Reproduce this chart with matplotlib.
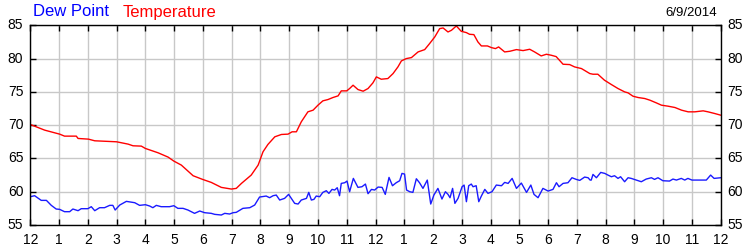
import matplotlib
matplotlib.use("Agg")
import matplotlib.pyplot as plt

plt.rcParams['font.family'] = ['Liberation Sans', 'DejaVu Sans']

temp_hours = [0.0, 0.50, 1.02, 1.19, 1.60, 1.66, 2.02, 2.24, 3.00, 3.40, 3.57, 3.86, 4.00, 4.44, 4.79,
              4.99, 5.25, 5.66, 5.99, 6.29, 6.64, 6.99, 7.16, 7.34, 7.68, 7.92, 8.09, 8.26, 8.50, 8.73,
              8.96, 9.10, 9.25, 9.42, 9.65, 9.83, 10.0, 10.17, 10.35, 10.52, 10.70, 10.81, 11.0, 11.10,
              11.22, 11.39, 11.57, 11.74, 11.91, 12.03, 12.20, 12.43, 12.61, 12.78, 12.90, 13.07, 13.25,
              13.48, 13.71, 13.88, 14.06, 14.23, 14.35, 14.52, 14.64, 14.81, 14.98, 15.16, 15.27, 15.42,
              15.56, 15.68, 15.89, 16.03, 16.17, 16.28, 16.49, 16.67, 16.90, 17.13, 17.36, 17.53, 17.76,
              17.94, 18.11, 18.28, 18.52, 18.75, 18.92, 19.16, 19.45, 19.56, 19.73, 19.96, 20.20, 20.43,
              20.66, 20.78, 20.95, 21.13, 21.36, 21.54, 21.76, 21.94, 22.17, 22.41, 22.64, 22.87, 23.10,
              23.39, 23.56, 23.79, 24.0]
temperature = [70.1, 69.25, 68.65, 68.35, 68.35, 68.0, 67.9, 67.65, 67.5, 67.15, 66.9, 66.85, 66.5, 65.85, 65.2,
               64.6, 64.0, 62.4, 61.85, 61.4, 60.65, 60.4, 60.5, 61.25, 62.5, 64.0, 66.0, 67.1, 68.25, 68.6,
               68.65, 69.0, 69.0, 70.5, 72.0, 72.25, 73.0, 73.65, 73.85, 74.15, 74.4, 75.15, 75.15, 75.5,
               76.0, 75.35, 75.1, 75.5, 76.35, 77.25, 76.9, 77.0, 77.75, 78.75, 79.65, 80.0, 80.15,
               81.0, 81.35, 82.25, 83.25, 84.5, 84.6, 84.0, 84.25, 84.9, 84.1, 83.9, 83.65, 83.6,
               82.5, 81.9, 81.9, 81.65, 81.5, 81.75, 81.0, 81.1, 81.35, 81.2, 81.4, 81.0, 80.4,
               80.65, 80.5, 80.3, 79.15, 79.1, 78.75, 78.5, 77.75, 77.65, 77.65, 76.75, 76.1, 75.5,
               75.0, 74.85, 74.35, 74.15, 74.0, 73.75, 73.35, 73.0, 72.85, 72.65, 72.25, 72.0, 72.0,
               72.15, 72.0, 71.75, 71.5]

dew_hours = [0.0, 0.15, 0.38, 0.56, 0.73, 0.90, 1.02, 1.19, 1.37, 1.48, 1.66, 1.77, 2.00, 2.12, 2.24, 2.41,
             2.58, 2.76, 2.87, 2.95, 3.11, 3.34, 3.63, 3.80, 4.00, 4.15, 4.26, 4.38, 4.55, 4.84,
             4.99, 5.13, 5.31, 5.48, 5.71, 5.89, 6.06, 6.29, 6.41, 6.64, 6.76, 6.93, 7.05, 7.16, 7.39,
             7.63, 7.80, 7.97, 8.20, 8.32, 8.44, 8.55, 8.67, 8.84, 8.98, 9.19, 9.31, 9.42, 9.60, 9.68,
             9.77, 9.86, 9.94, 10.06, 10.17, 10.29, 10.38, 10.49, 10.58, 10.67, 10.75, 10.81, 10.93,
             11.01, 11.10, 11.23, 11.39, 11.53, 11.65, 11.74, 11.86, 11.97, 12.09, 12.23, 12.34, 12.47,
             12.59, 12.72, 12.84, 12.92, 13.01, 13.08, 13.19, 13.30, 13.42, 13.53, 13.65, 13.80, 13.92,
             14.03, 14.17, 14.31, 14.43, 14.52, 14.59, 14.68, 14.76, 14.87, 15.01, 15.08, 15.16, 15.24,
             15.33, 15.39, 15.50, 15.59, 15.68, 15.80, 15.91, 16.05, 16.20, 16.38, 16.49, 16.61, 16.75,
             16.90, 17.07, 17.25, 17.40, 17.51, 17.65, 17.82, 18.00, 18.17, 18.29, 18.38, 18.52, 18.69,
             18.83, 18.98, 19.10, 19.27, 19.39, 19.46, 19.50, 19.56, 19.68, 19.83, 19.97, 20.08, 20.20,
             20.31, 20.43, 20.52, 20.66, 20.78, 20.89, 21.07, 21.24, 21.41, 21.59, 21.70, 21.82, 21.99,
             22.22, 22.34, 22.46, 22.63, 22.75, 22.86, 23.00, 23.50, 23.65, 23.77, 24.00]
dew_point = [59.25, 59.4, 58.7, 58.7, 57.95, 57.4, 57.35, 57.0, 57.0, 57.4, 57.15, 57.45, 57.45, 57.75, 57.15, 57.6,
             57.6, 57.95, 57.95, 57.25, 58.0, 58.55, 58.35, 57.95, 58.05, 57.85, 57.6, 57.95, 57.75, 57.75,
             57.9, 57.5, 57.5, 57.25, 56.75, 57.1, 56.85, 56.75, 56.6, 56.5, 56.75, 56.65, 56.85, 56.9, 57.5,
             57.6, 58.0, 59.2, 59.35, 59.1, 59.4, 59.5, 58.75, 59.0, 59.6, 58.25, 58.15, 58.75, 59.0, 59.9,
             58.75, 58.85, 59.35, 59.25, 59.9, 60.15, 59.75, 60.35, 60.25, 60.6, 59.4, 61.25, 61.35,
             61.6, 60.0, 62.0, 60.65, 60.75, 61.15, 59.7, 60.35, 60.25, 60.7, 60.65, 59.6, 62.15,
             60.9, 61.35, 61.65, 62.75, 62.65, 60.25, 60.0, 59.9, 61.95, 61.35, 60.5, 61.75, 58.15,
             59.5, 60.5, 58.9, 60.0, 59.6, 59.1, 60.5, 58.25, 59.0, 60.75, 61.0, 58.5, 60.9,
             61.15, 60.75, 60.9, 58.5, 59.35, 60.35, 59.75, 60.0, 61.0, 60.9, 61.4, 61.25, 62.0,
             60.5, 61.3, 59.9, 61.0, 59.6, 59.1, 60.5, 60.1, 60.35, 61.35, 60.75, 61.25, 61.35,
             62.1, 61.85, 61.7, 62.2, 62.1, 61.75, 61.75, 62.6, 62.1, 62.9, 62.75, 62.5, 62.25,
             62.4, 62.0, 62.25, 61.5, 62.1, 62.0, 61.75, 61.5, 61.9, 62.1, 61.85, 62.1, 61.65,
             61.6, 61.9, 61.75, 62.0, 61.75, 62.0, 61.75, 61.75, 62.5, 62.0, 62.1]

hour_ticks = list(range(0, 25))
hour_labels = ['12', '1', '2', '3', '4', '5', '6', '7', '8', '9', '10', '11',
               '12', '1', '2', '3', '4', '5', '6', '7', '8', '9', '10', '11', '12']
y_ticks = [55, 60, 65, 70, 75, 80, 85]
date_text = '6/9/2014'

fig = plt.figure(figsize=(7.5, 2.5), dpi=100)
ax = fig.add_axes([30.3 / 750, 25 / 250, (720.7 - 30.3) / 750, (225 - 25.3) / 250])

ax.plot(dew_hours, dew_point, color='#1a1aff', linewidth=1.0)
ax.plot(temp_hours, temperature, color='#ff0000', linewidth=1.0)

ax.set_xlim(0, 24)
ax.set_ylim(55, 85)
ax.set_xticks(hour_ticks)
ax.set_xticklabels(hour_labels)
ax.set_yticks(y_ticks)
ax.grid(True, color='#c8c8c8', linewidth=1.0)
ax.set_axisbelow(True)
ax.tick_params(direction='in', length=4, width=1, top=True, right=True,
               labelleft=True, labelright=True, labelsize=10, colors='black')
ax.tick_params(axis='x', pad=6)
ax.tick_params(axis='y', pad=5)
for lbl in ax.get_yticklabels():
    lbl.set_verticalalignment('center')
for s in ax.spines.values():
    s.set_linewidth(1.0)
    s.set_color('black')

fig.text(33 / 750, 1 - 12 / 250, 'Dew Point', color='#0000ff', fontsize=12, va='center', ha='left')
fig.text(123 / 750, 1 - 12 / 250, 'Temperature', color='#ff0000', fontsize=12, va='center', ha='left')
fig.text(717 / 750, 1 - 12.5 / 250, date_text, color='black', fontsize=9.5, va='center', ha='right')

fig.savefig('out.png', dpi=100)
